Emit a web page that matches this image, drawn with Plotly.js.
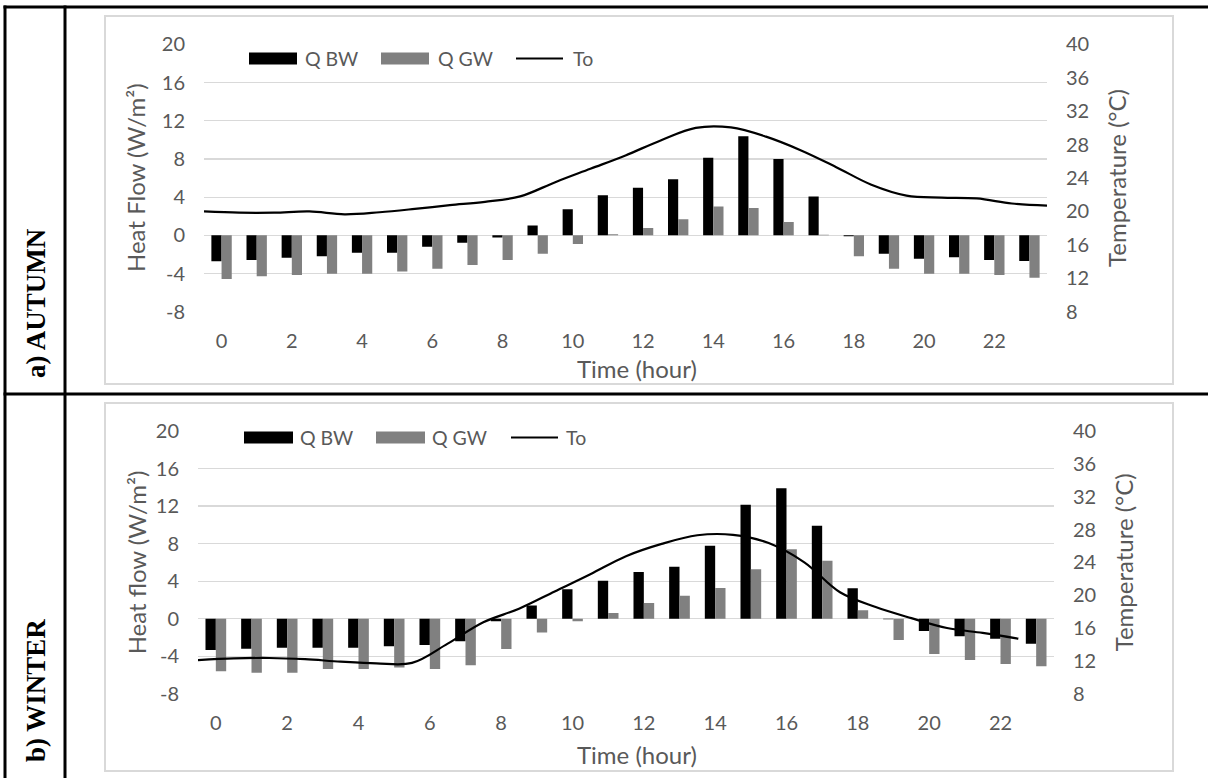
<!DOCTYPE html>
<html>
<head>
<meta charset="utf-8">
<script src="https://cdn.plot.ly/plotly-3.0.1.min.js"></script>
<style>html,body{margin:0;padding:0;background:#fff;}#chart{width:1208px;height:778px;}</style>
</head>
<body>
<div id="chart"></div>
<script>
// ---------- data ----------
const hours = [0,1,2,3,4,5,6,7,8,9,10,11,12,13,14,15,16,17,18,19,20,21,22,23];
const xTickVals = [0,2,4,6,8,10,12,14,16,18,20,22];
const yTickVals = [-8,-4,0,4,8,12,16,20];
const y2TickVals = [8,12,16,20,24,28,32,36,40];

// a) AUTUMN
const qbwAutumn = [-2.73,-2.59,-2.34,-2.2,-1.82,-1.82,-1.19,-0.77,-0.24,1.02,2.73,4.2,4.98,5.88,8.13,10.37,7.98,4.07,-0.1,-1.92,-2.45,-2.31,-2.59,-2.69];
const qgwAutumn = [-4.58,-4.3,-4.16,-4.02,-4.02,-3.78,-3.5,-3.11,-2.59,-1.92,-0.91,0.1,0.77,1.68,3.01,2.87,1.4,0.05,-2.2,-3.5,-4.02,-4.02,-4.16,-4.44];
const toHoursAutumn = [0,1,2,3,4,5,6,7,8,9,10,11,12,13,14,15,16,17,18,19,20,21,22,23,24];
const toAutumn = [20.0,19.85,19.85,20.0,19.65,19.9,20.3,20.75,21.15,21.8,23.5,25.1,26.7,28.5,30.0,30.05,28.95,27.3,25.3,23.2,21.9,21.65,21.55,20.95,20.7];

// b) WINTER
const qbwWinter = [-3.34,-3.2,-3.09,-3.09,-3.09,-2.95,-2.81,-2.42,-0.28,1.39,3.13,4.05,4.97,5.54,7.78,12.15,13.89,9.91,3.23,-0.07,-1.31,-1.88,-2.13,-2.67];
const qgwWinter = [-5.61,-5.76,-5.76,-5.36,-5.36,-5.22,-5.36,-4.97,-3.23,-1.49,-0.28,0.6,1.67,2.45,3.27,5.26,7.39,6.18,0.89,-2.27,-3.77,-4.4,-4.83,-5.08];
const toHoursWinter = [0,1,2,3,4,5,6,7,8,9,10,11,12,13,14,15,16,17,18,19,20,21,22,23];
const toWinter = [12.1,12.3,12.35,12.2,11.9,11.7,11.75,14.1,16.7,18.35,20.45,22.55,24.75,26.25,27.3,27.35,26.35,24.0,20.35,18.55,17.2,16.0,15.4,14.7];

const seriesNames = ['Q BW','Q GW','To'];
const panelLabels = ['a) AUTUMN','b) WINTER'];
const yTitles = ['Heat Flow (W/m\u00b2)','Heat flow (W/m\u00b2)'];
const y2Title = 'Temperature (\u00b0C)';
const xTitle = 'Time (hour)';

// ---------- layout helpers ----------
const W = 1208, H = 778;
const fx = p => p / W;
const fy = p => 1 - p / H;
const GRAY = '#595959';
const FONT = 'Lato, "Open Sans", sans-serif';
const tickFont = {family: FONT, size: 20, color: GRAY};
const txt = v => String(v);   // plain hyphen-minus, as in the original

const panels = [
  {xl:204, xr:1047, yt:44.3, yb:311.7, box:[105,16,1173,384], leg:{y:58.5, bw:[249,297], tbw:303, gw:[381,429], tgw:436, ln:[516,563], tln:571, wipe:[223,610]}, ytx:136, y2tx:1117, xty:368, lab:303},
  {xl:198, xr:1054, yt:431, yb:693.7, box:[105,403,1173,771], leg:{y:437.5, bw:[244,293], tbw:298, gw:[376,425], tgw:430, ln:[511,558], tln:564, wipe:[217,605]}, ytx:136, y2tx:1123, xty:754, lab:691}
];

const traces = [];
const layout = {
  width: W, height: H,
  margin: {l:0, r:0, t:0, b:0, autoexpand:false},
  paper_bgcolor: '#fff', plot_bgcolor: 'rgba(0,0,0,0)',
  showlegend: false,
  barmode: 'group', bargap: 0.42, bargroupgap: 0,
  hovermode: false,
  font: {family: FONT, color: GRAY},
  shapes: [], annotations: []
};

const datasets = [
  {bw: qbwAutumn, gw: qgwAutumn, th: toHoursAutumn, t: toAutumn},
  {bw: qbwWinter, gw: qgwWinter, th: toHoursWinter, t: toWinter}
];

datasets.forEach((d, i) => {
  const p = panels[i];
  const xa = i === 0 ? 'x' : 'x3', ya = i === 0 ? 'y' : 'y3';
  const xa2 = i === 0 ? 'x2' : 'x4', ya2 = i === 0 ? 'y2' : 'y4';
  const xk = i === 0 ? 'xaxis' : 'xaxis3', yk = i === 0 ? 'yaxis' : 'yaxis3';
  const xk2 = i === 0 ? 'xaxis2' : 'xaxis4', yk2 = i === 0 ? 'yaxis2' : 'yaxis4';
  const xdom = [fx(p.xl), fx(p.xr)], ydom = [fy(p.yb), fy(p.yt)];

  traces.push({type:'bar', name:seriesNames[0], x:hours, y:d.bw, xaxis:xa, yaxis:ya, marker:{color:'#000000'}});
  traces.push({type:'bar', name:seriesNames[1], x:hours, y:d.gw, xaxis:xa, yaxis:ya, marker:{color:'#808080'}});
  traces.push({type:'scatter', mode:'lines', name:seriesNames[2], x:d.th, y:d.t, xaxis:xa2, yaxis:ya2,
               line:{color:'#000000', width:2.2, shape:'spline', smoothing:1}});

  layout[xk] = {domain:xdom, anchor:ya, range:[-0.5,23.5], tickmode:'array', tickvals:xTickVals, ticktext:xTickVals.map(txt),
                showgrid:false, zeroline:false, showline:false, ticks:'', tickfont:tickFont, ticklabelstandoff:15, fixedrange:true};
  layout[yk] = {domain:ydom, anchor:xa, range:[-8,20], tickmode:'array', tickvals:yTickVals, ticktext:yTickVals.map(txt),
                showgrid:true, gridcolor:'#d9d9d9', gridwidth:1.2,
                zeroline:false, showline:false, ticks:'', tickfont:tickFont, ticklabelstandoff:18, fixedrange:true};
  layout[yk2] = {overlaying:ya, side:'right', anchor:xa, range:[8,40], tickmode:'array', tickvals:y2TickVals, ticktext:y2TickVals.map(txt),
                 showgrid:false, zeroline:false, showline:false, ticks:'', tickfont:tickFont, ticklabelstandoff:18, fixedrange:true};
  layout[xk2] = {overlaying:xa, anchor:ya2, range:[0,24], visible:false, fixedrange:true};

  // chart frame
  const b = p.box;
  layout.shapes.push({type:'rect', xref:'paper', yref:'paper', x0:fx(b[0]), x1:fx(b[2]), y0:fy(b[3]), y1:fy(b[1]),
                      line:{color:'#d9d9d9', width:2}, fillcolor:'rgba(0,0,0,0)', layer:'below'});
  // legend
  const L = p.leg;
  layout.shapes.push({type:'rect', xref:'paper', yref:'paper', x0:fx(L.wipe[0]), x1:fx(L.wipe[1]), y0:fy(L.y+14), y1:fy(L.y-16),
                      line:{width:0}, fillcolor:'#ffffff', layer:'above'});
  layout.shapes.push({type:'rect', xref:'paper', yref:'paper', x0:fx(L.bw[0]), x1:fx(L.bw[1]), y0:fy(L.y+6), y1:fy(L.y-6),
                      line:{width:0}, fillcolor:'#000000', layer:'above'});
  layout.shapes.push({type:'rect', xref:'paper', yref:'paper', x0:fx(L.gw[0]), x1:fx(L.gw[1]), y0:fy(L.y+6), y1:fy(L.y-6),
                      line:{width:0}, fillcolor:'#808080', layer:'above'});
  layout.shapes.push({type:'line', xref:'paper', yref:'paper', x0:fx(L.ln[0]), x1:fx(L.ln[1]), y0:fy(L.y), y1:fy(L.y),
                      line:{color:'#000000', width:2.2}, layer:'above'});
  [[L.tbw,seriesNames[0]],[L.tgw,seriesNames[1]],[L.tln,seriesNames[2]]].forEach(([x,t]) => {
    layout.annotations.push({xref:'paper', yref:'paper', x:fx(x), y:fy(L.y), xanchor:'left', yanchor:'middle',
                             text:t, showarrow:false, font:{family:FONT, size:19.5, color:GRAY}});
  });
  // axis titles
  layout.annotations.push({xref:'paper', yref:'paper', x:fx(p.ytx), y:(ydom[0]+ydom[1])/2, xanchor:'center', yanchor:'middle',
                           text:yTitles[i], textangle:-90, showarrow:false, font:{family:FONT, size:24, color:GRAY}});
  layout.annotations.push({xref:'paper', yref:'paper', x:fx(p.y2tx), y:(ydom[0]+ydom[1])/2, xanchor:'center', yanchor:'middle',
                           text:y2Title, textangle:-90, showarrow:false, font:{family:FONT, size:24, color:GRAY}});
  layout.annotations.push({xref:'paper', yref:'paper', x:fx(637), y:fy(p.xty), xanchor:'center', yanchor:'middle',
                           text:xTitle, showarrow:false, font:{family:FONT, size:24, color:GRAY}});
  // panel label
  layout.annotations.push({xref:'paper', yref:'paper', x:fx(36), y:fy(p.lab), xanchor:'center', yanchor:'middle',
                           text:'<b>'+panelLabels[i]+'</b>', textangle:-90, showarrow:false,
                           font:{family:'"Liberation Serif", "Times New Roman", serif', size:27, color:'#000'}});
});

// table borders
const blk = {color:'#000000', width:3};
layout.shapes.push({type:'line', xref:'paper', yref:'paper', x0:fx(3.5), x1:1, y0:fy(7), y1:fy(7), line:blk, layer:'above'});
layout.shapes.push({type:'line', xref:'paper', yref:'paper', x0:fx(3.5), x1:1, y0:fy(394), y1:fy(394), line:blk, layer:'above'});
layout.shapes.push({type:'line', xref:'paper', yref:'paper', x0:fx(5), x1:fx(5), y0:fy(5.5), y1:0, line:blk, layer:'above'});
layout.shapes.push({type:'line', xref:'paper', yref:'paper', x0:fx(65), x1:fx(65), y0:fy(5.5), y1:0, line:blk, layer:'above'});

Plotly.newPlot('chart', traces, layout, {displayModeBar:false, staticPlot:true});
</script>
</body>
</html>
